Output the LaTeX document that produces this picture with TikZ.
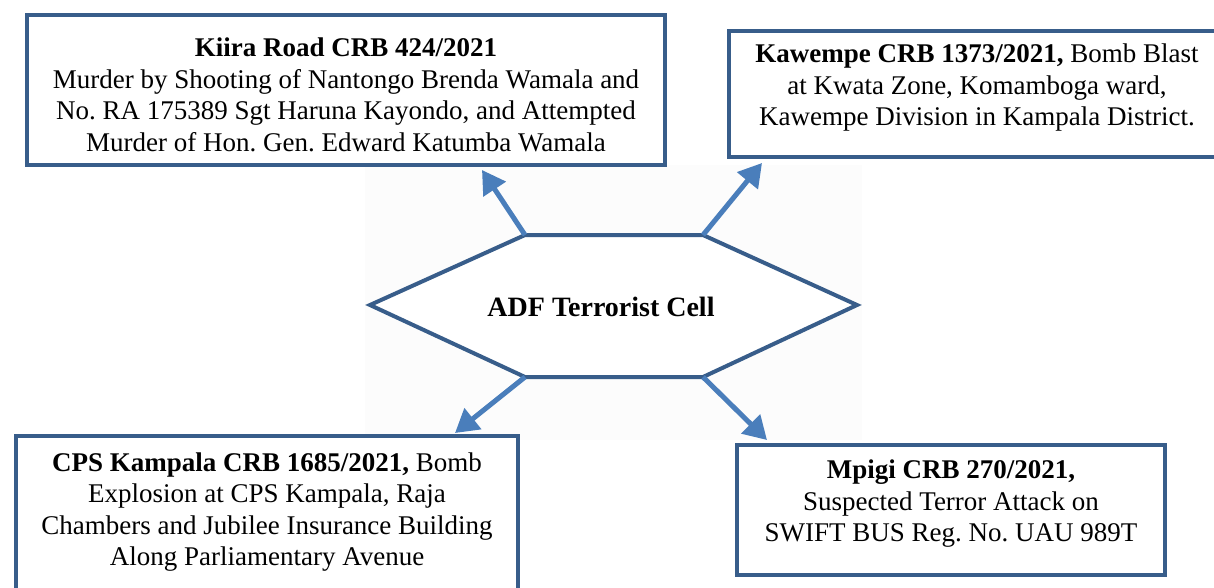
\documentclass[tikz,border=0pt]{standalone}
\usepackage{fontspec}
\setmainfont{Liberation Serif}
\usetikzlibrary{arrows.meta}
\definecolor{framec}{HTML}{385D8A}
\definecolor{arrowc}{HTML}{4A7EBB}
\frenchspacing
\begin{document}
\begin{tikzpicture}[x=1pt,y=-1pt,
  frame/.style={draw=framec, line width=4.3pt, inner sep=0pt, fill=white},
  txt/.style={align=center, font=\fontsize{27}{31.5}\selectfont, inner sep=0pt},
  link/.style={draw=arrowc, line width=5pt, -{Triangle[length=23pt,width=26pt]}}]
\useasboundingbox (0,0) rectangle (1214,587);
\fill[white] (0,0) rectangle (1214,587);
\fill[black!1] (365,165) rectangle (862,440);
% boxes
\node[frame, minimum width=638pt, minimum height=150pt] (kiira) at (346,90) {};
\node[txt] (kiiraT) at (346,95) {\textbf{Kiira Road CRB 424/2021}\\Murder by Shooting of Nantongo Brenda Wamala and\\No. RA 175389 Sgt Haruna Kayondo, and Attempted\\Murder of Hon. Gen. Edward Katumba Wamala};
\node[frame, minimum width=496pt, minimum height=126pt] (kaw) at (977,94) {};
\node[txt] (kawT) at (977,88) {\textbf{Kawempe CRB 1373/2021,} Bomb Blast\\at Kwata Zone, Komamboga ward,\\Kawempe Division in Kampala District.};
\node[frame, minimum width=502pt, minimum height=154pt] (cps) at (267,513) {};
\node[txt] (cpsT) at (267,512) {\textbf{CPS Kampala CRB 1685/2021,} Bomb\\Explosion at CPS Kampala, Raja\\Chambers and Jubilee Insurance Building\\Along Parliamentary Avenue};
\node[frame, minimum width=428pt, minimum height=130pt] (mpi) at (951,510) {};
\node[txt] (mpiT) at (951,504) {\textbf{Mpigi CRB 270/2021,}\\Suspected Terror Attack on\\SWIFT BUS Reg. No. UAU 989T};
% hexagon
\coordinate (h1) at (370,305);
\coordinate (h2) at (525,235);
\coordinate (h3) at (703,235);
\coordinate (h4) at (857,305);
\coordinate (h5) at (703,377);
\coordinate (h6) at (525,377);
\draw[framec, line width=4pt, fill=white, line join=miter] (h1) -- (h2) -- (h3) -- (h4) -- (h5) -- (h6) -- cycle;
\node[txt, font=\fontsize{28}{32}\selectfont] (adf) at (601,307) {\textbf{ADF Terrorist Cell}};
% arrow tips
\coordinate (t1) at (482,170);
\coordinate (t2) at (762,163);
\coordinate (t3) at (455,433);
\coordinate (t4) at (767,440);
\draw[link] (h2) -- (t1);
\draw[link] (h3) -- (t2);
\draw[link] (h6) -- (t3);
\draw[link] (h5) -- (t4);
\end{tikzpicture}
\end{document}
